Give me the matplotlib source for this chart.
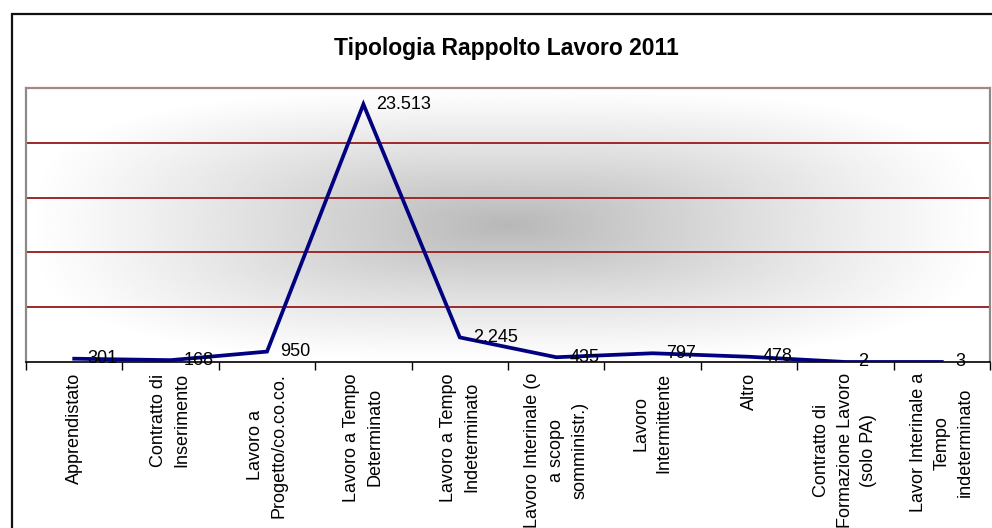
import numpy as np
import matplotlib
matplotlib.use("Agg")
import matplotlib.pyplot as plt
from matplotlib.patches import Rectangle

plt.rcParams['font.family'] = ['Liberation Sans', 'DejaVu Sans']

# tipologie di rapporto di lavoro, 2011
categorie = ["Apprendistato",
             "Contratto di\nInserimento",
             "Lavoro a\nProgetto/co.co.co.",
             "Lavoro a Tempo\nDeterminato",
             "Lavoro a Tempo\nIndeterminato",
             "Lavoro Interinale (o\na scopo\nsomministr.)",
             "Lavoro\nIntermittente",
             "Altro",
             "Contratto di\nFormazione Lavoro\n(solo PA)",
             "Lavor Interinale a\nTempo\nindeterminato"]
valori = [301, 168, 950, 23513, 2245, 435, 797, 478, 2, 3]
etichette = ["301", "168", "950", "23.513", "2.245", "435", "797", "478", "2", "3"]
y_griglia = [5000, 10000, 15000, 20000, 25000]

W, H = 992, 528
fig = plt.figure(figsize=(W / 100, H / 100), dpi=100, facecolor='white')

# cornice esterna del grafico
fig.patches.append(Rectangle((11.5 / W, -0.1), 1.2, 1.1 - 14.5 / H,
                             transform=fig.transFigure, fill=False,
                             edgecolor='#111111', linewidth=1.6))

left, right, top, bottom = 26, 990, 88, 362
ax = fig.add_axes([left / W, 1 - bottom / H, (right - left) / W, (bottom - top) / H])

n = len(valori)
x = np.arange(n)
ax.set_xlim(-0.5, n - 0.5)
ax.set_ylim(0, 25000)

# sfondo sfumato dal centro
u = np.linspace(-1, 1, 400)
v = np.linspace(-1, 1, 200)
U, V = np.meshgrid(u, v)
t = (np.abs(U) ** 3 + np.abs(V) ** 3) ** (1 / 3)
t = np.clip(t, 0, 1)
grigio = 1.0 - (1 - t) ** 1.1 * 0.28
ax.imshow(grigio, cmap='gray', vmin=0, vmax=1, aspect='auto',
          extent=(-0.5, n - 0.5, 0, 25000), zorder=0, interpolation='bilinear')

for g in y_griglia[:-1]:
    ax.axhline(g, color='#9b2a2a', linewidth=1.4, zorder=1)

ax.plot(x, valori, color='#000080', linewidth=2.7, zorder=3,
        solid_joinstyle='miter')

for xi, yi, lab in zip(x, valori, etichette):
    ax.annotate(lab, (xi, yi), xytext=(9.5, 0), textcoords='offset points',
                ha='left', va='center', fontsize=13, color='black', zorder=4)

# bordi dell'area del tracciato
ax.spines['left'].set_color('#8a8a8a')
ax.spines['right'].set_color('#8a8a8a')
ax.spines['top'].set_color('#a08888')
ax.spines['left'].set_linewidth(1.6)
ax.spines['right'].set_linewidth(1.6)
ax.spines['top'].set_linewidth(1.6)
ax.spines['bottom'].set_color('black')
ax.spines['bottom'].set_linewidth(1.2)

ax.set_yticks([])
ax.set_xticks(np.arange(-0.5, n, 1.0))
ax.set_xticklabels([])
ax.tick_params(axis='x', which='major', direction='out', length=6, width=1, color='black')
ax.set_xticks(x, minor=True)
ax.set_xticklabels(categorie, minor=True, rotation=90, ha='center', va='top',
                   multialignment='center', fontsize=13, linespacing=1.5)
ax.tick_params(axis='x', which='minor', length=0, pad=8)

fig.text(506 / W, 1 - 49 / H, "Tipologia Rappolto Lavoro 2011", ha='center', va='center',
         fontsize=16.5, fontweight='bold')

fig.savefig("out.png", dpi=100, facecolor='white')
